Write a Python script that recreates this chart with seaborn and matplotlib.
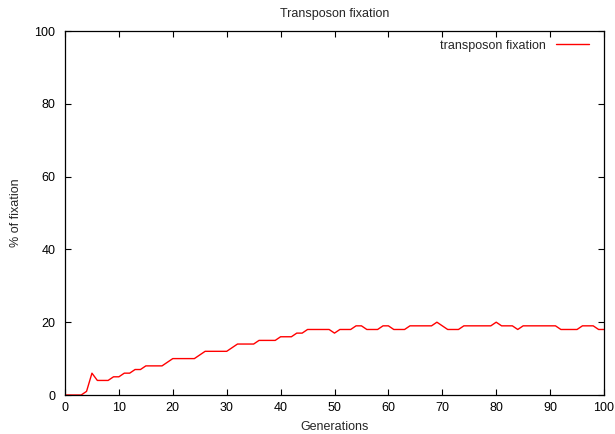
import matplotlib
matplotlib.use("Agg")
import matplotlib.pyplot as plt
import seaborn as sns
import pandas as pd

# generation 0..100, percentage of fixation
generations = list(range(0, 101))
fixation = [
    0, 0, 0, 0, 1, 6, 4, 4, 4, 5,
    5, 6, 6, 7, 7, 8, 8, 8, 8, 9,
    10, 10, 10, 10, 10, 11, 12, 12, 12, 12,
    12, 13, 14, 14, 14, 14, 15, 15, 15, 15,
    16, 16, 16, 17, 17, 18, 18, 18, 18, 18,
    17, 18, 18, 18, 19, 19, 18, 18, 18, 19,
    19, 18, 18, 18, 19, 19, 19, 19, 19, 20,
    19, 18, 18, 18, 19, 19, 19, 19, 19, 19,
    20, 19, 19, 19, 18, 19, 19, 19, 19, 19,
    19, 19, 18, 18, 18, 18, 19, 19, 19, 18,
    18,
]
x_ticks = list(range(0, 101, 10))
y_ticks = list(range(0, 101, 20))

df = pd.DataFrame({"Generations": generations, "fixation": fixation})

sns.set_style("ticks")
plt.rcParams["font.family"] = ["Liberation Sans", "DejaVu Sans"]
plt.rcParams["font.size"] = 9

fig = plt.figure(figsize=(6.15, 4.34), dpi=100)
ax = fig.add_axes([65 / 615, 1 - 395 / 434, (604 - 65) / 615, (395 - 31) / 434])

sns.lineplot(data=df, x="Generations", y="fixation", color="#ff0000",
             linewidth=1.0, label="transposon fixation", ax=ax)

ax.set_xlim(0, 100)
ax.set_ylim(0, 100)
ax.set_xticks(x_ticks)
ax.set_yticks(y_ticks)
ax.tick_params(direction="in", length=4, width=0.8, top=True, right=True,
               labelsize=9, colors="black", pad=5)
ax.tick_params(axis="y", pad=7)
for sp in ax.spines.values():
    sp.set_visible(True)
    sp.set_linewidth(0.9)
    sp.set_color("black")

ax.set_title("Transposon fixation", fontsize=9, pad=10)
ax.set_xlabel("Generations", fontsize=9, labelpad=5)
ax.set_ylabel("% of fixation", fontsize=9, labelpad=9)

leg = ax.legend(loc="upper right", bbox_to_anchor=(1 - 6 / 539, 1),
                frameon=False, markerfirst=False, fontsize=9,
                handlelength=2.7, borderaxespad=0.3, handletextpad=0.8)

fig.savefig("out.png", dpi=100)
plt.close(fig)
